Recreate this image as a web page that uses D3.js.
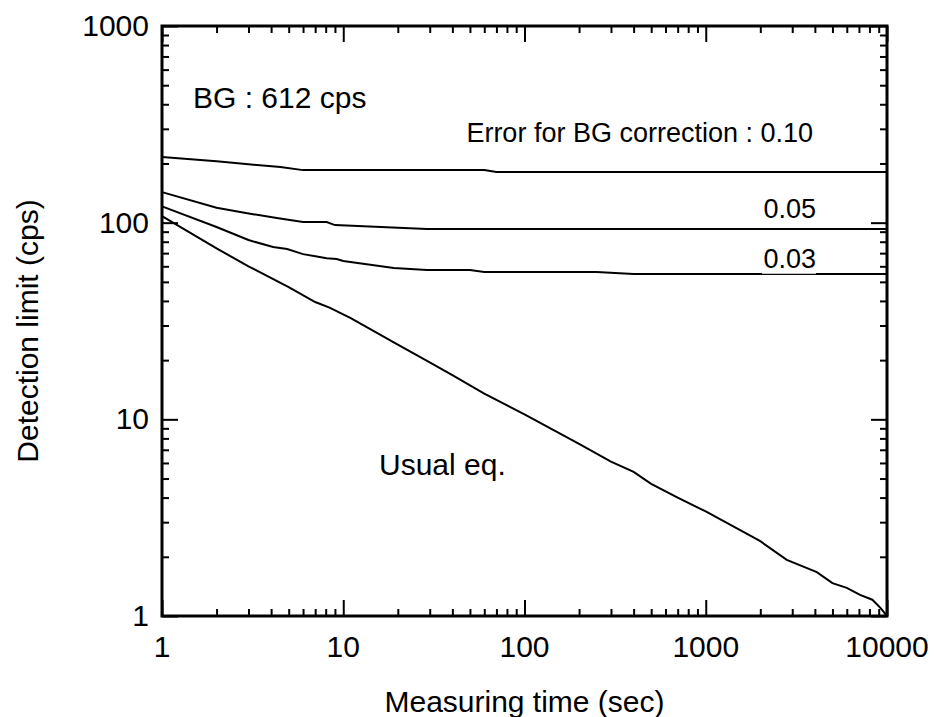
<!DOCTYPE html>
<html>
<head>
<meta charset="utf-8">
<script src="https://cdn.jsdelivr.net/npm/d3@7"></script>
<style>
  body { margin: 0; background: #fff; }
  svg { font-family: "Liberation Sans", Arial, sans-serif; }
</style>
</head>
<body>
<svg id="chart"></svg>
<script>
// measuring time (sec) and detection limit (cps)
var timeUsual  = [1, 2, 3, 5, 7, 8.4, 11, 20, 30, 40, 60, 100, 200, 300, 400, 500, 700, 1000, 2000, 2800, 4100, 5000, 6000, 7100, 8300, 9200, 10000];
var limitUsual = [108, 74, 60, 47, 39.5, 37, 32.7, 24, 19.5, 16.8, 13.5, 10.6, 7.5, 6.1, 5.4, 4.7, 4.0, 3.4, 2.4, 1.93, 1.67, 1.47, 1.39, 1.28, 1.21, 1.10, 1.0];

var time003  = [1, 2, 3, 4.1, 4.9, 6, 8.1, 9.2, 10, 19, 29, 50, 60, 100, 250, 400, 1000, 10000];
var limit003 = [121, 95, 81.6, 75.2, 73.4, 69.2, 66, 65.3, 63.8, 58.8, 57.4, 57.4, 56.2, 56.2, 56.2, 54.8, 54.8, 54.8];

var time005  = [1, 2, 2.9, 4.3, 6, 8.1, 9, 29, 100, 1000, 10000];
var limit005 = [143, 119, 112, 105.5, 100.7, 100.7, 97.2, 92.8, 92.8, 92.8, 92.8];

var time010  = [1, 2, 3, 4.5, 6, 20, 60, 70, 100, 1000, 10000];
var limit010 = [216, 205, 198, 192, 185, 185, 185, 181, 181, 181, 181];

var xMajor = [1, 10, 100, 1000, 10000];
var yMajor = [1, 10, 100, 1000];

var width = 936, height = 717;
var margin = { top: 26, right: 49, bottom: 101, left: 162 };

var svg = d3.select('#chart')
    .attr('width', width)
    .attr('height', height);

var x = d3.scaleLog().domain([1, 10000]).range([margin.left, width - margin.right]);
var y = d3.scaleLog().domain([1, 1000]).range([height - margin.bottom, margin.top]);

// minor tick positions (2..9 in each decade)
function minors(lo, hi) {
    var out = [];
    for (var d = lo; d < hi; d *= 10) {
        for (var k = 2; k <= 9; k++) out.push(d * k);
    }
    return out;
}
var xMinor = minors(1, 10000);
var yMinor = minors(1, 1000);

var x0 = margin.left, x1 = width - margin.right;
var y0 = height - margin.bottom, y1 = margin.top;

function styleAxis(g) {
    g.select('.domain').remove();
    g.selectAll('line').attr('stroke', '#000').attr('stroke-width', 2);
}

// ticks point inward on all four sides
svg.append('g').attr('transform', 'translate(0,' + y0 + ')')
    .call(d3.axisBottom(x).tickValues(xMajor).tickSize(-16).tickFormat(''))
    .call(styleAxis);
svg.append('g').attr('transform', 'translate(0,' + y0 + ')')
    .call(d3.axisBottom(x).tickValues(xMinor).tickSize(-7).tickFormat(''))
    .call(styleAxis);
svg.append('g').attr('transform', 'translate(0,' + y1 + ')')
    .call(d3.axisTop(x).tickValues(xMajor).tickSize(-16).tickFormat(''))
    .call(styleAxis);
svg.append('g').attr('transform', 'translate(0,' + y1 + ')')
    .call(d3.axisTop(x).tickValues(xMinor).tickSize(-7).tickFormat(''))
    .call(styleAxis);
svg.append('g').attr('transform', 'translate(' + x0 + ',0)')
    .call(d3.axisLeft(y).tickValues(yMajor).tickSize(-16).tickFormat(''))
    .call(styleAxis);
svg.append('g').attr('transform', 'translate(' + x0 + ',0)')
    .call(d3.axisLeft(y).tickValues(yMinor).tickSize(-7).tickFormat(''))
    .call(styleAxis);
svg.append('g').attr('transform', 'translate(' + x1 + ',0)')
    .call(d3.axisRight(y).tickValues(yMajor).tickSize(-16).tickFormat(''))
    .call(styleAxis);
svg.append('g').attr('transform', 'translate(' + x1 + ',0)')
    .call(d3.axisRight(y).tickValues(yMinor).tickSize(-7).tickFormat(''))
    .call(styleAxis);

// tick labels
svg.append('g').selectAll('text')
    .data(xMajor)
    .enter().append('text')
    .attr('x', function(d) { return x(d); })
    .attr('y', 657)
    .attr('text-anchor', 'middle')
    .attr('font-size', 30)
    .text(function(d) { return d; });

svg.append('g').selectAll('text')
    .data(yMajor)
    .enter().append('text')
    .attr('x', x0 - 13)
    .attr('y', function(d) { return y(d); })
    .attr('dy', '0.33em')
    .attr('text-anchor', 'end')
    .attr('font-size', 30)
    .text(function(d) { return d; });

// frame
svg.append('rect')
    .attr('x', x0).attr('y', y1)
    .attr('width', x1 - x0).attr('height', y0 - y1)
    .attr('fill', 'none')
    .attr('stroke', '#000')
    .attr('stroke-width', 3);

// curves
var line = d3.line()
    .x(function(d) { return x(d[0]); })
    .y(function(d) { return y(d[1]); });

var series = [
    d3.zip(timeUsual, limitUsual),
    d3.zip(time003, limit003),
    d3.zip(time005, limit005),
    d3.zip(time010, limit010)
];

svg.append('g').selectAll('path')
    .data(series)
    .enter().append('path')
    .attr('d', line)
    .attr('fill', 'none')
    .attr('stroke', '#000')
    .attr('stroke-width', 2);

// the 0.03 label sits on a white box that partly hides its line
svg.append('rect')
    .attr('x', 762).attr('y', 246)
    .attr('width', 54).attr('height', y(54.8) - 246)
    .attr('fill', '#fff')
    .attr('opacity', 0.75);

// annotations
var notes = [
    { t: 'BG : 612 cps', x: 193, y: 108, size: 30, anchor: 'start' },
    { t: 'Error for BG correction : 0.10', x: 813, y: 142, size: 27, anchor: 'end' },
    { t: '0.05', x: 816, y: 218, size: 27, anchor: 'end' },
    { t: '0.03', x: 816, y: 268, size: 27, anchor: 'end' },
    { t: 'Usual eq.', x: 379, y: 475, size: 30, anchor: 'start' }
];
svg.append('g').selectAll('text')
    .data(notes)
    .enter().append('text')
    .attr('x', function(d) { return d.x; })
    .attr('y', function(d) { return d.y; })
    .attr('font-size', function(d) { return d.size; })
    .attr('text-anchor', function(d) { return d.anchor; })
    .text(function(d) { return d.t; });

// axis titles
svg.append('text')
    .attr('x', (x0 + x1) / 2)
    .attr('y', 712)
    .attr('text-anchor', 'middle')
    .attr('font-size', 30)
    .text('Measuring time (sec)');

svg.append('text')
    .attr('transform', 'translate(38,' + 331 + ') rotate(-90)')
    .attr('text-anchor', 'middle')
    .attr('font-size', 30)
    .text('Detection limit (cps)');
</script>
</body>
</html>
